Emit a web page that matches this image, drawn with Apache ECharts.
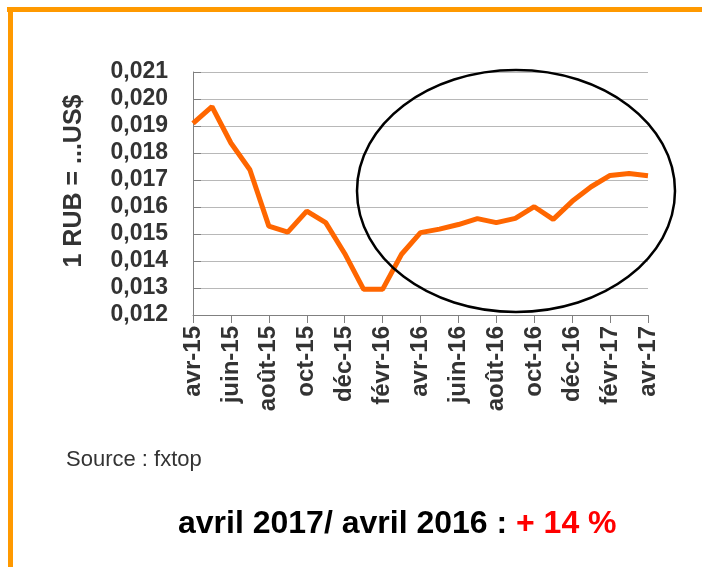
<!DOCTYPE html>
<html>
<head>
<meta charset="utf-8">
<script src="https://cdn.jsdelivr.net/npm/echarts@6/dist/echarts.min.js"></script>
<style>html,body{margin:0;padding:0;background:#fff;}#c{width:702px;height:567px;}</style>
</head>
<body>
<div id="c"></div>
<script>
const months = ['avr-15','mai-15','juin-15','juil-15','août-15','sept-15','oct-15','nov-15','déc-15','janv-16','févr-16','mars-16',
  'avr-16','mai-16','juin-16','juil-16','août-16','sept-16','oct-16','nov-16','déc-16','janv-17','févr-17','mars-17','avr-17'];
const rubUsd = [0.0191,0.01972,0.01837,0.01738,0.01529,0.01507,0.01585,0.01542,0.01428,0.01295,0.01295,0.01425,
  0.01505,0.01518,0.01535,0.01557,0.01542,0.01558,0.01601,0.01554,0.01621,0.01675,0.01717,0.01724,0.01716];
const yTicks = {min:0.012, max:0.021, step:0.001};
const yName = '1 RUB = ...US$';
const sourceText = 'Source : fxtop';
const titleBlack = 'avril 2017/ avril 2016 : ';
const titleRed = '+ 14 %';

const chart = echarts.init(document.getElementById('c'));
const F = '"Liberation Sans", Arial, sans-serif';
chart.setOption({
  animation:false,
  grid:{left:193, right:54, top:72, bottom:252, containLabel:false},
  xAxis:{
    type:'category', data:months, boundaryGap:false,
    axisLine:{lineStyle:{color:'#808080', width:1}},
    axisTick:{show:true, interval:1, length:8, lineStyle:{color:'#808080'}},
    axisLabel:{interval:1, rotate:90, fontFamily:F, fontWeight:'bold', fontSize:24, color:'#333', margin:11},
    splitLine:{show:false}
  },
  yAxis:{
    type:'value', min:yTicks.min, max:yTicks.max, interval:yTicks.step,
    name:yName, nameLocation:'middle', nameGap:106, nameRotate:90,
    nameTextStyle:{fontFamily:F, fontWeight:'bold', fontSize:25, color:'#333', padding:[0,0,0,25]},
    axisLine:{show:true, lineStyle:{color:'#808080'}},
    axisTick:{show:true, inside:true, length:8, lineStyle:{color:'#808080'}},
    axisLabel:{formatter:v=>v.toFixed(3).replace('.',','), fontFamily:F, fontWeight:'bold', fontSize:23, color:'#333', margin:25},
    splitLine:{lineStyle:{color:'#b8b8b8', width:1}}
  },
  series:[{
    type:'line', data:rubUsd, showSymbol:false, symbol:'none',
    lineStyle:{color:'#FF6600', width:5}, z:3
  }],
  graphic:[
    {type:'rect', shape:{x:7, y:7, width:695, height:5}, style:{fill:'#FF9900'}},
    {type:'rect', shape:{x:8, y:7, width:5, height:560}, style:{fill:'#FF9900'}},
    {type:'ellipse', shape:{cx:516, cy:191, rx:159, ry:121}, style:{fill:'none', stroke:'#000', lineWidth:2.5}, z:10},
    {type:'text', left:66, top:449, style:{text:sourceText, fontFamily:F, fontSize:22, fill:'#333'}},
    {type:'text', left:178, top:508, style:{
      text:'{b|'+titleBlack+'}{r|'+titleRed+'}',
      rich:{b:{fontFamily:F, fontWeight:'bold', fontSize:32, fill:'#000', color:'#000'},
            r:{fontFamily:F, fontWeight:'bold', fontSize:32, fill:'#FF0000', color:'#FF0000'}}
    }}
  ]
});
</script>
</body>
</html>
